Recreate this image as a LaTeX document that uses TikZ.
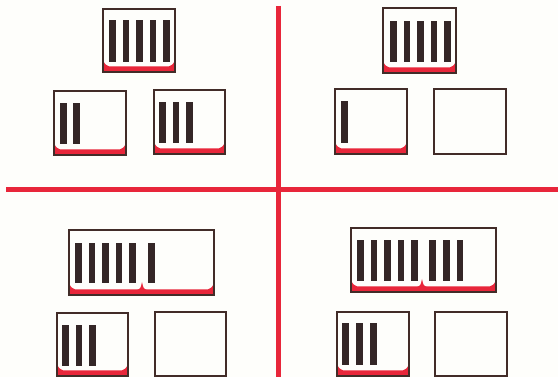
\documentclass[tikz,border=0pt]{standalone}
\usepackage{tikz}
\definecolor{paper}{RGB}{254,254,251}
\definecolor{divred}{RGB}{232,38,58}
\definecolor{edge}{RGB}{66,44,40}
\definecolor{barc}{RGB}{52,38,38}
\tikzset{
  divline/.style={draw=divred, line width=5pt},
  boxline/.style={draw=edge, line width=1.7pt},
  barfill/.style={fill=barc},
  redfill/.style={fill=divred}
}
% red base of a box: #1 x0, #2 y0, #3 x1, #4 y1
\newcommand\qred[4]{%
  \pgfmathsetmacro\qa{#4-12}\pgfmathsetmacro\qb{#4-5.5}\pgfmathsetmacro\qg{#4-7.5}%
  \pgfmathsetmacro\qc{#1+6.5}\pgfmathsetmacro\qd{#3-6.5}%
  \pgfmathsetmacro\qe{#1+2}\pgfmathsetmacro\qf{#3-2}%
  \fill[redfill] (#1,#4) -- (#1,\qa) .. controls (\qe,\qg) .. (\qc,\qb)
    -- (\qd,\qb) .. controls (\qf,\qg) .. (#3,\qa) -- (#3,#4) -- cycle;}
\newcommand\qnotch[2]{%
  \pgfmathsetmacro\qa{#2-13}\pgfmathsetmacro\qb{#2-5}\pgfmathsetmacro\qg{#2-6.5}%
  \pgfmathsetmacro\qc{#1-5}\pgfmathsetmacro\qd{#1+5}%
  \pgfmathsetmacro\qe{#1-1.4}\pgfmathsetmacro\qf{#1+1.4}%
  \fill[redfill] (\qc,\qb) .. controls (\qe,\qg) .. (#1,\qa)
    .. controls (\qf,\qg) .. (\qd,\qb) -- cycle;}
\newcommand\qbox[4]{\draw[boxline] (#1,#2) rectangle (#3,#4);}
\newcommand\qbars[3]{%
  \foreach \bx in {#1} {\fill[barfill] (\bx,#2) rectangle ++(6.5,#3-#2);}}
\begin{document}
\begin{tikzpicture}[x=1pt,y=-1pt]
\useasboundingbox (0,0) rectangle (558,377);
\fill[paper] (0,0) rectangle (558,377);
% dividing lines
\coordinate (hl) at (6,190);
\coordinate (hr) at (558,190);
\coordinate (vt) at (278,6);
\coordinate (vb) at (278,377);
\draw[divline] (hl) -- (hr);
\draw[divline] (vt) -- (vb);
% ---- top-left quadrant
\qred{103}{9}{175}{72}\qbox{103}{9}{175}{72}
\qbars{109,122.5,136,149.5,163}{20}{62}
\qred{54}{91}{126}{155}\qbox{54}{91}{126}{155}
\qbars{60,73}{103}{144}
\qred{154}{90}{225}{154}\qbox{154}{90}{225}{154}
\qbars{159,172.5,186}{102}{143}
% ---- top-right quadrant
\qred{383}{8}{456}{73}\qbox{383}{8}{456}{73}
\qbars{390,403.5,417,430.5,444}{21}{62}
\qred{335}{89}{407}{154}\qbox{335}{89}{407}{154}
\qbars{341}{101}{143}
\qbox{434}{89}{506}{154}
% ---- bottom-left quadrant
\qred{69}{230}{214}{295}\qnotch{142}{295}\qbox{69}{230}{214}{295}
\qbars{75,88.5,102,115.5,129,148}{243}{283}
\qred{57}{313}{128}{376}\qbox{57}{313}{128}{376}
\qbars{62,75.5,89}{325}{366}
\qbox{155}{312}{226}{376}
% ---- bottom-right quadrant
\qred{351}{228}{496}{292}\qnotch{422}{292}\qbox{351}{228}{496}{292}
\qbars{357,370.5,384,397.5,411,429,443,456.5}{240}{281}
\qred{337}{312}{409}{376}\qbox{337}{312}{409}{376}
\qbars{342,356,370}{323}{365}
\qbox{435}{312}{507}{376}
\end{tikzpicture}
\end{document}
